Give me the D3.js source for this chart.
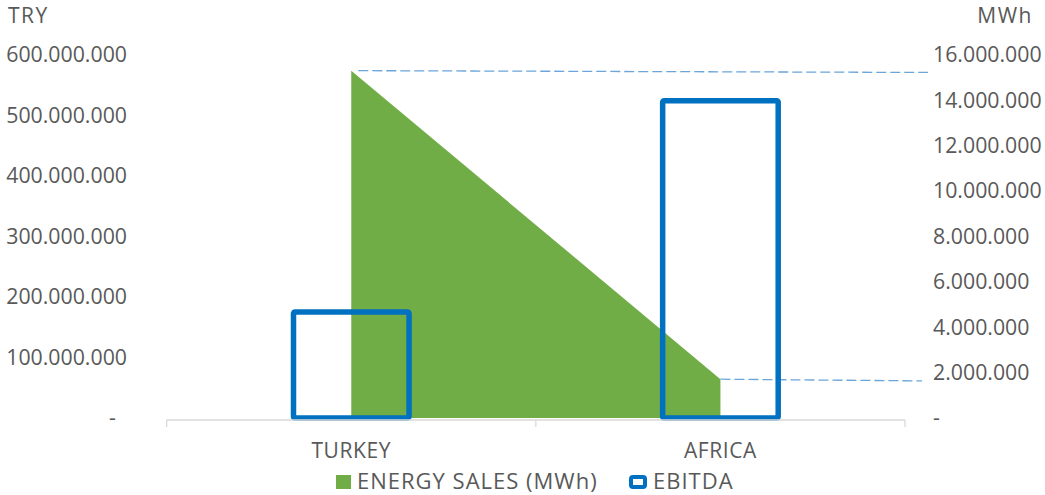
<!DOCTYPE html>
<html><head><meta charset="utf-8">
<script src="https://cdn.jsdelivr.net/npm/d3@7"></script>
<style>
html,body{margin:0;padding:0;background:#fff;}
text{font-family:"Open Sans",sans-serif;fill:#595959;}
</style></head>
<body><svg id="c" width="1045" height="495"></svg>
<script>
const categories = ["TURKEY", "AFRICA"];
const ebitda = [175200000, 524300000];          // TRY, left axis
const energySales = [15310000, 1710000];       // MWh, right axis
const leftTicks = [0, 100e6, 200e6, 300e6, 400e6, 500e6, 600e6];
const rightTicks = [0, 2e6, 4e6, 6e6, 8e6, 10e6, 12e6, 14e6, 16e6];
const leftTitle = "TRY";
const rightTitle = "MWh";
const legendLabels = ["ENERGY SALES (MWh)", "EBITDA"];

const svg = d3.select("#c");
const x0 = 166.7, x1 = 905, yBase = 418, yTop = 55;
const fmt = v => v === 0 ? "-" : d3.format(",")(v).replace(/,/g, ".");

const xBand = d3.scaleBand().domain(categories).range([x0, x1]).paddingInner(0.687).paddingOuter(0.3435);
const xPt = d3.scalePoint().domain(categories).range([x0, x1]).padding(0.5);
const yL = d3.scaleLinear().domain([0, 600e6]).range([yBase, yTop]);
const yR = d3.scaleLinear().domain([0, 16e6]).range([yBase, yTop]);

// area (energy sales)
const area = d3.area().x((d, i) => xPt(categories[i])).y0(yR(0)).y1(d => yR(d));
svg.append("path").datum(energySales).attr("d", area).attr("fill", "#70ad47");

// leader dashed lines
const leaderEnds = [[928, 72.5], [922, 381]];
energySales.forEach((v, i) => {
  const sx = xPt(categories[i]) + (i === 0 ? 7 : 0);
  svg.append("line").attr("x1", sx).attr("y1", yR(v)).attr("x2", leaderEnds[i][0]).attr("y2", yR(v) + (i===0?1.8:1.7))
    .attr("stroke", "#5b9bd5").attr("stroke-opacity", 0.9).attr("stroke-width", 1.3).attr("stroke-dasharray", "10,4");
});

// bars
svg.selectAll("rect.bar").data(ebitda).join("rect").attr("class", "bar")
  .attr("x", (d, i) => xBand(categories[i])).attr("width", xBand.bandwidth())
  .attr("y", d => yL(d)).attr("height", d => yL(0) - yL(d))
  .attr("fill", "none").attr("stroke", "#0070c0").attr("stroke-width", 5.5).attr("rx", 1.5);

// x axis line
const xAx = svg.append("g").attr("transform", "translate(0,420)");
xAx.append("line").attr("x1", x0).attr("x2", x1).attr("stroke", "#d9d9d9").attr("stroke-width", 1.3);
[x0, (x0 + x1) / 2, x1].forEach(t => xAx.append("line").attr("x1", t).attr("x2", t).attr("y1", 0).attr("y2", 7).attr("stroke", "#d9d9d9").attr("stroke-width", 1.3));
categories.forEach(c => xAx.append("text").attr("x", xPt(c)).attr("y", 38).attr("text-anchor", "middle")
  .attr("font-size", 21).attr("letter-spacing", 0.6).text(c));

// left axis
const gl = svg.append("g").attr("transform", "translate(127,0)")
  .call(d3.axisLeft(yL).tickValues(leftTicks).tickSize(0).tickPadding(0).tickFormat(d => d === 0 ? "-\u00a0\u00a0" : fmt(d)));
gl.select(".domain").remove();
gl.selectAll("text").attr("font-size", 21.3).attr("font-family", "Open Sans").attr("fill", "#595959");

// right axis
const gr = svg.append("g").attr("transform", "translate(933,0)")
  .call(d3.axisRight(yR).tickValues(rightTicks).tickSize(0).tickPadding(0).tickFormat(fmt));
gr.select(".domain").remove();
gr.selectAll("text").attr("font-size", 21.3).attr("font-family", "Open Sans").attr("fill", "#595959");

// axis titles
svg.append("text").attr("x", 8).attr("y", 23).attr("font-size", 21).attr("letter-spacing", 1.5).text(leftTitle);
svg.append("text").attr("x", 1033).attr("y", 22.5).attr("text-anchor", "end").attr("font-size", 21).attr("letter-spacing", 1.5).text(rightTitle);

// legend
svg.append("rect").attr("x", 336).attr("y", 475).attr("width", 15).attr("height", 14).attr("fill", "#70ad47");
svg.append("text").attr("x", 357).attr("y", 489).attr("font-size", 22).attr("letter-spacing", 1).text(legendLabels[0]);
svg.append("rect").attr("x", 631).attr("y", 477).attr("width", 14).attr("height", 10).attr("rx", 2)
  .attr("fill", "#fff").attr("stroke", "#0070c0").attr("stroke-width", 4);
svg.append("text").attr("x", 653).attr("y", 489).attr("font-size", 22).attr("letter-spacing", 1).text(legendLabels[1]);
</script></body></html>
